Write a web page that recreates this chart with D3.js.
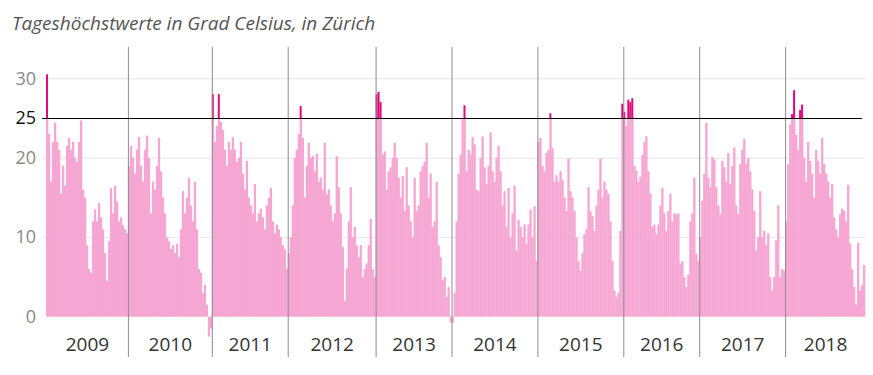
<!DOCTYPE html>
<html>
<head>
<meta charset="utf-8">
<script src="https://cdn.jsdelivr.net/npm/d3@7"></script>
<style>
  body { margin: 0; background: #fff; }
  svg { display: block; }
</style>
</head>
<body>
<script>
const W = 873, H = 375;

const years = [2009, 2010, 2011, 2012, 2013, 2014, 2015, 2016, 2017, 2018];

// Tageshöchstwerte (ca. alle 2px ein Wert)
const t2009 = [30.5, 23, 17, 22, 24.4, 22, 21, 15.5, 19, 16.5, 21.5, 22.5, 21, 22, 20, 19.5, 22, 24.7, 16, 15,
  9, 6, 5.5, 12, 13.5, 12, 14.3, 12.5, 11, 8, 4.5, 9.5, 16.2, 13, 16.5, 14.5, 12, 12.5, 11.5, 11, 10.5];
const t2010 = [19, 21.5, 20, 18, 21, 22.6, 19, 17, 21, 22.8, 20, 13, 17, 16, 19, 22.5, 18.3, 15, 13, 10,
  9.5, 8.5, 9, 8, 9.2, 7.5, 11, 15.8, 13, 15, 17.5, 14, 12, 17, 11, 6, 5.5, 3, 4, 1.5, -2.5, -1.5];
const t2011 = [28, 22, 24, 28, 24.5, 23.5, 21, 19, 22, 21, 22.6, 21, 19.5, 20, 22, 18, 16, 19.6, 15, 14,
  13, 16.7, 12, 13, 13.6, 12.5, 11, 14, 15, 16.2, 12, 10.5, 11.6, 11, 10, 9, 8.5, 6];
const t2012 = [8, 10, 14, 20, 21, 23, 26.5, 22.5, 15, 19, 21.9, 20, 20.2, 18.3, 20.5, 17, 17.5, 16, 21.9, 15.4,
  16, 14, 12, 13, 20.2, 16.3, 13, 8.8, 2, 6, 12, 16.3, 10, 11.3, 9, 7.5, 9, 5, 6, 6.7, 9, 12.3, 6, 5];
const t2013 = [28, 28.3, 27, 20.4, 20.8, 16, 18.3, 18.8, 20, 21.9, 20, 17.5, 15, 17.7, 13.3, 18.8, 14, 12, 10, 17.5,
  13.3, 14, 18.3, 19, 19.5, 21.9, 15, 18, 11.3, 12, 17, 9, 7.5, 4.6, 5, 2.5, 3.75, -0.7];
const t2014 = [-0.8, 3, 12, 18, 20.4, 25, 26.6, 18.3, 21, 20.4, 22.6, 21.7, 16, 15.8, 20, 22.7, 18.8, 16.7, 19, 23.2,
  18.3, 17, 20, 21.5, 18.3, 14, 15.8, 11.3, 16.2, 10, 13, 16.5, 8.3, 12.2, 11.3, 10, 11.6, 9.2, 11.6, 13.5, 10, 13.9, 7];
const t2015 = [22, 22.5, 19, 18.3, 20.6, 21, 25.6, 21.2, 17, 17.8, 17, 18.3, 17.2, 15, 13.3, 19.9, 15.8, 15, 13.3, 10,
  7, 5.8, 8, 10.4, 11, 16.3, 13.3, 12.7, 10.8, 14, 16, 19.9, 15, 17, 16, 15.5, 12, 7, 3.3, 2.5, 3, 10.8, 26.8];
const t2016 = [25.8, 24, 27.3, 27, 27.5, 19, 18.4, 17, 17.6, 20.4, 22, 22.7, 18.3, 15.5, 11.3, 11.6, 10.4, 11.6, 14, 16.2,
  13, 10.8, 13.3, 15.5, 12, 13, 12.9, 13, 6.7, 7, 5, 3.75, 5.3, 12, 13, 17.5, 7.9, 7];
const t2017 = [10, 14.6, 18, 24.4, 17.5, 16.3, 20.1, 19.8, 16.3, 14, 12.9, 19.6, 18.8, 17, 20.6, 16.7, 19, 21.3, 14, 12.9,
  19.2, 21, 22.4, 19.2, 20, 18.3, 16, 13.3, 8.3, 10, 15.8, 10, 10.8, 9, 10.5, 5, 3.3, 5, 9.6, 14, 5, 6, 5.8];
const t2018 = [12, 19.2, 24.2, 25.5, 28.5, 22.9, 21, 26, 26.7, 20, 17, 22, 19.6, 18, 15, 21, 19.6, 18, 22.5, 19.2,
  18, 17, 15, 16.7, 12.5, 11, 10, 12.9, 13.6, 13.3, 12, 16.6, 9.2, 6, 3.75, 1.5, 9.3, 3.3, 4, 6.5];

const series = [t2009, t2010, t2011, t2012, t2013, t2014, t2015, t2016, t2017, t2018];
const yTicks = [0, 10, 20, 25, 30];
const gridTicks = [10, 20, 30];
const limit = 25;

// flache Liste mit Index
let all = [];
let starts = [];
series.forEach((arr, k) => {
  starts.push(all.length);
  arr.forEach(v => all.push({ i: all.length, v: v, year: years[k] }));
});
const total = all.length;

const x = d3.scaleLinear().domain([0, total]).range([46, 865]);
const y = d3.scaleLinear().domain([0, 30]).range([316.7, 78.3]);
const step = x(1) - x(0);

const svg = d3.select("body").append("svg")
  .attr("width", W)
  .attr("height", H);

svg.append("text")
  .attr("x", 12)
  .attr("y", 30)
  .attr("font-family", "Open Sans")
  .attr("font-style", "italic")
  .attr("font-size", "19px")
  .attr("fill", "#555")
  .text("Tageshöchstwerte in Grad Celsius, in Zürich");

// Gitterlinien
const grid = svg.append("g")
  .attr("transform", "translate(865,0)")
  .call(d3.axisLeft(y).tickValues(gridTicks).tickSize(865 - 42).tickFormat(""));
grid.select(".domain").remove();
grid.selectAll("line").attr("stroke", "#e6e6e6");

// Balken
const bars = svg.append("g");
bars.selectAll("rect.b")
  .data(all)
  .enter()
  .append("rect")
    .attr("class", "b")
    .attr("x", d => x(d.i))
    .attr("width", step + 0.3)
    .attr("y", d => y(Math.max(0, Math.min(d.v, limit))))
    .attr("height", d => Math.abs(y(0) - y(Math.min(d.v, limit))))
    .attr("fill", "#f6a6d2");

bars.selectAll("rect.hot")
  .data(all.filter(d => d.v > limit))
  .enter()
  .append("rect")
    .attr("class", "hot")
    .attr("x", d => x(d.i))
    .attr("width", step)
    .attr("y", d => y(d.v))
    .attr("height", d => y(limit) - y(d.v))
    .attr("fill", "#e2087f");

// Jahrestrenner
svg.append("g").selectAll("line")
  .data(starts.slice(1))
  .enter()
  .append("line")
    .attr("x1", d => x(d) + 0.5)
    .attr("x2", d => x(d) + 0.5)
    .attr("y1", 47)
    .attr("y2", 357)
    .attr("stroke", "#8c8c8c")
    .attr("stroke-width", 1);

// 25-Grad-Linie
svg.append("line")
  .attr("x1", 42)
  .attr("x2", 862)
  .attr("y1", Math.round(y(limit)) + 0.5)
  .attr("y2", Math.round(y(limit)) + 0.5)
  .attr("stroke", "#000")
  .attr("stroke-width", 1);

// y-Achse
const yAxis = svg.append("g")
  .attr("transform", "translate(36,0)")
  .call(d3.axisLeft(y).tickValues(yTicks).tickSize(0).tickPadding(0));
yAxis.select(".domain").remove();
yAxis.selectAll("text")
  .attr("font-family", "Open Sans")
  .attr("font-size", "18px")
  .attr("fill", d => d === limit ? "#111" : "#8a8a8a");

// Jahreslabels
const mids = series.map((arr, k) => starts[k] + arr.length / 2);
const xAxis = svg.append("g")
  .attr("transform", "translate(0,337)")
  .call(d3.axisBottom(x).tickValues(mids).tickSize(0).tickPadding(0)
    .tickFormat((d, k) => years[k]));
xAxis.select(".domain").remove();
xAxis.selectAll("text")
  .attr("font-family", "Open Sans")
  .attr("font-size", "19px")
  .attr("fill", "#333");
</script>
</body>
</html>
